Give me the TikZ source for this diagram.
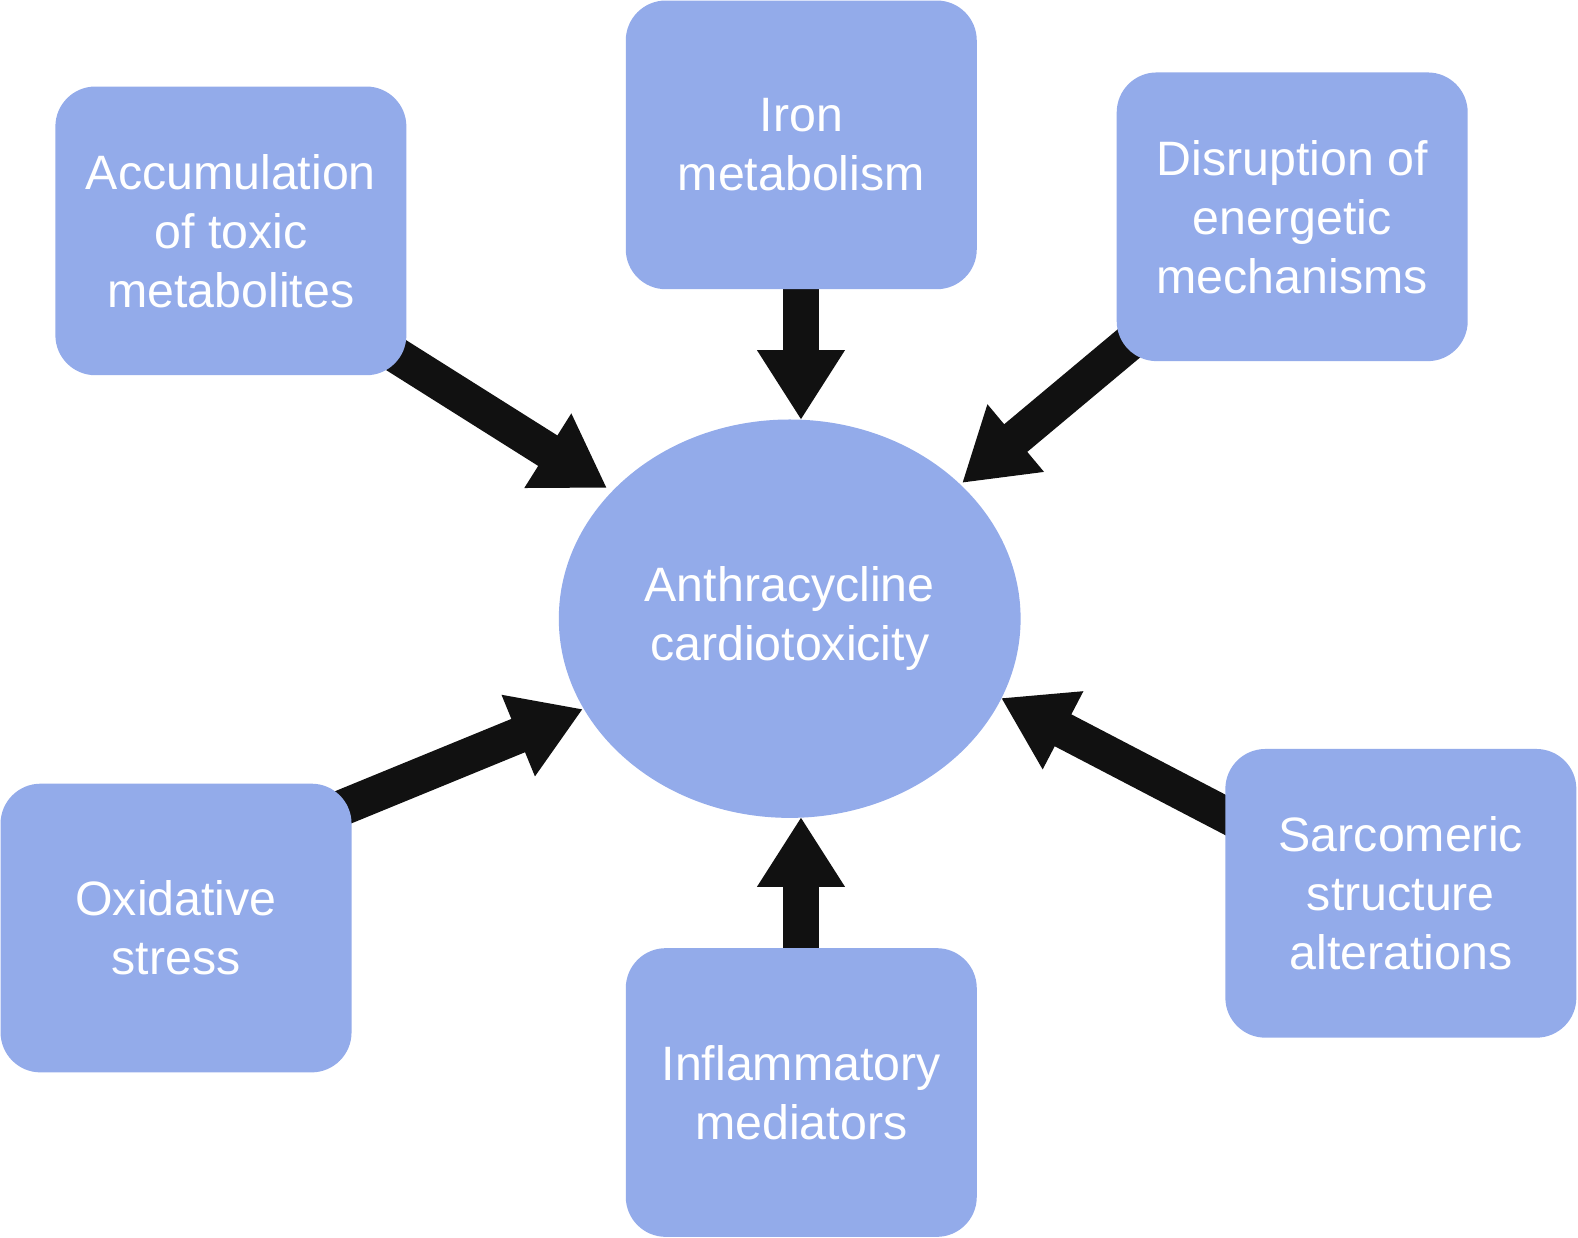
\documentclass[tikz,border=0pt]{standalone}
\usepackage{fontspec}
\setmainfont{Liberation Sans}
\usetikzlibrary{arrows.meta,shapes.geometric}
\definecolor{boxblue}{RGB}{147,171,234}
\definecolor{arrowblack}{RGB}{17,17,17}
\pgfdeclarelayer{background}
\pgfsetlayers{background,main}
\begin{document}
\begin{tikzpicture}[x=1.006pt,y=-1.006pt,
  boxtext/.style={text=white, align=center, font=\fontsize{48.3}{59}\selectfont},
  box/.style={boxtext, rectangle, rounded corners=40pt, fill=boxblue,
    minimum width=351pt, minimum height=288.7pt, inner sep=0pt},
  hub/.style={boxtext, ellipse, fill=boxblue,
    minimum width=461.8pt, minimum height=398.4pt, inner sep=0pt},
  bigarrow/.style={draw=arrowblack, line width=36pt,
    -{Triangle[length=70pt,width=83pt]}}]
\useasboundingbox (0,0) rectangle (1568.6,1230.6);

\node[hub] (hub) at (785,615) {Anthracycline\\cardiotoxicity};

\node[box] (acc) at (229.5,229.5) {Accumulation\\of toxic\\metabolites};
\node[box] (iron) at (796.5,144) {Iron\\metabolism};
\node[box] (dis) at (1284.5,215.5) {Disruption of\\energetic\\mechanisms};
\node[box] (oxi) at (175,922.5) {Oxidative\\stress};
\node[box] (inf) at (796.5,1086) {Inflammatory\\mediators};
\node[box] (sar) at (1392.5,888) {Sarcomeric\\structure\\alterations};

\coordinate (accS) at (347.9,324.1);
\coordinate (accT) at (603.4,485.1);
\coordinate (ironS) at (796.2,150);
\coordinate (ironT) at (796.2,417.5);
\coordinate (disS) at (1163,307.2);
\coordinate (disT) at (956.3,480.1);
\coordinate (oxiS) at (298.2,820.1);
\coordinate (oxiT) at (579.5,704.8);
\coordinate (infS) at (796.2,1080);
\coordinate (infT) at (796.2,812.1);
\coordinate (sarS) at (1252.5,828);
\coordinate (sarT) at (995,693.8);

\begin{pgfonlayer}{background}
\draw[bigarrow] (accS) -- (accT);
\draw[bigarrow] (ironS) -- (ironT);
\draw[bigarrow] (disS) -- (disT);
\draw[bigarrow] (oxiS) -- (oxiT);
\draw[bigarrow] (infS) -- (infT);
\draw[bigarrow] (sarS) -- (sarT);
\end{pgfonlayer}
\end{tikzpicture}
\end{document}
